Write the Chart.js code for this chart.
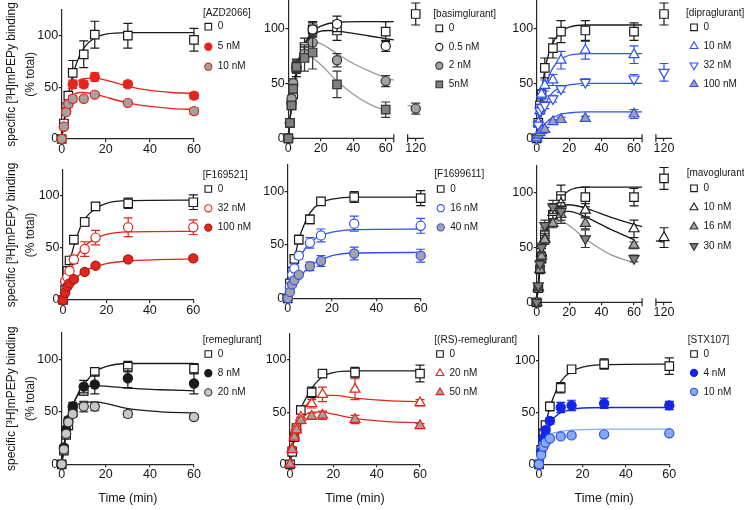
<!DOCTYPE html>
<html>
<head>
<meta charset="utf-8">
<script src="https://cdn.jsdelivr.net/npm/chart.js"></script>
<style>
  html, body { margin: 0; padding: 0; background: #fff; }
  #wrap { position: relative; width: 744px; height: 510px; }
  #wrap canvas { position: absolute; left: 0; top: 0; }
</style>
</head>
<body>
<div id="wrap"></div>
<script>
// time points (min); 120 only in the panels with a broken axis
const T = [0, 1, 2, 3, 5, 10, 15, 30, 60];
const TB = [0, 1, 2, 3, 5, 10, 15, 30, 60, 120];
const xTicks = [0, 20, 40, 60];
const xTicksB = [0, 20, 40, 60, 120];
const yTicks = [0, 50, 100];

// [AZD2066]
const azd_0 = [0, 15, 31, 42, 64, 82, 101, 100, 96];
const azd_0e = [0, 2, 3, 4, 12, 13, 13, 12, 11];
const azd_5 = [0, 12, 27, 34, 53, 53, 60, 53, 42];
const azd_5e = [0, 2, 2, 3, 4, 3, 4, 3, 3];
const azd_10 = [0, 12, 26, 34, 39, 39, 43, 35, 27];
const azd_10e = [0, 2, 2, 3, 3, 2, 2, 2, 3];
const azd_0f = [[0,0],[1,17],[2,31],[3,43],[5,62],[8,80],[10,88],[15,98],[20,101.5],[30,103],[60,103]];
const azd_5f = [[0,0],[1,15],[2,28],[3,38],[5,50],[8,57],[10,58.5],[15,59],[20,57],[30,51],[40,47],[50,45],[60,44]];
const azd_10f = [[0,0],[1,15],[2,27],[3,35],[5,42],[8,45],[10,45],[15,43.5],[20,40.5],[30,35],[40,31.5],[50,29.5],[60,28.5]];

// [basimglurant]
const bas_0 = [0, 14, 30, 40, 64, 83, 99, 98, 97, 113];
const bas_0e = [0, 2, 3, 4, 8, 8, 6, 9, 9, 10];
const bas_05 = [0, 14, 32, 48, 64, 77, 99, 104, 84, null];
const bas_05e = [0, 2, 3, 4, 4, 6, 7, 7, 5, 0];
const bas_2 = [0, 14, 36, 50, 65, 77, 87, 71, 52, 27];
const bas_2e = [0, 2, 3, 4, 5, 6, 7, 6, 5, 5];
const bas_5 = [0, 14, 30, 45, 65, 73, 78, 49, 26, null];
const bas_5e = [0, 2, 3, 4, 6, 12, 15, 12, 7, 0];
const bas_0f = [[0,0],[1,16],[2,30],[3,42],[5,62],[8,79],[10,86],[15,97],[20,102],[30,105.5],[45,106],[65,106]];
const bas_05f = [[0,0],[1,16],[2,30],[3,42],[5,62],[8,78],[10,85],[15,94],[20,97.5],[25,98],[35,96.5],[50,93],[65,89.5]];
const bas_2f = [[0,0],[2,32],[5,62],[8,80],[10,85],[15,88],[20,86],[30,77],[40,68],[50,61],[60,55],[65,53]];
const bas_2f2 = [[115,30],[120,28]];
const bas_5f = [[0,0],[2,30],[5,56],[8,70],[10,73],[12,74],[15,73],[20,67],[30,52],[40,40],[50,31],[60,25]];

// [dipraglurant]
const dip_0 = [0, 14, 30, 40, 64, 82, 97, 98, 97, 113];
const dip_0e = [0, 2, 3, 4, 9, 9, 10, 9, 8, 10];
const dip_10 = [0, 14, 25, 40, 48, 53, 71, 80, 76, null];
const dip_10e = [0, 2, 3, 4, 5, 5, 8, 8, 8, 0];
const dip_32 = [0, 12, 25, 28, 30, 36, 45, 51, 54, 60];
const dip_32e = [0, 2, 2, 3, 3, 3, 3, 3, 4, 8];
const dip_100 = [0, 3, 5, 7, 8, 15, 17, 18, 22, null];
const dip_100e = [0, 1, 1, 1, 2, 2, 2, 2, 4, 0];
const dip_0f = [[0,0],[1,16],[2,30],[3,42],[5,62],[8,80],[10,87],[15,97],[20,101],[30,103],[65,103]];
const dip_10f = [[0,0],[1,11],[2,22],[3,31],[5,45],[8,58],[10,64],[15,72],[20,75.5],[30,77],[65,77]];
const dip_32f = [[0,0],[1,8],[2,15],[3,21],[5,30],[8,38],[10,42],[15,46.5],[20,48.5],[30,50],[65,50]];
const dip_100f = [[0,0],[2,6],[5,13],[8,17],[10,19],[15,22],[20,23],[30,24],[65,24]];

// [F169521]
const fa_0 = [0, 10, 28, 38, 58, 75, 90, 93, 94];
const fa_0e = [0, 2, 2, 3, 4, 4, 3, 5, 7];
const fa_32 = [0, 18, 22, 28, 39, 49, 60, 70, 70];
const fa_32e = [0, 2, 3, 3, 4, 7, 7, 9, 7];
const fa_100 = [0, 7, 13, 16, 20, 27, 33, 39, 40];
const fa_100e = [0, 1, 2, 2, 2, 2, 2, 2, 2];
const fa_0f = [[0,0],[1,13],[2,25],[3,35],[5,52],[8,70],[10,78],[15,88],[20,93],[30,95.5],[60,96]];
const fa_32f = [[0,0],[1,11],[2,20],[3,26],[5,37],[8,47],[10,52],[15,59],[20,63],[30,65.5],[60,66]];
const fa_100f = [[0,0],[1,5],[2,10],[3,14],[5,19],[8,25],[10,28],[15,32],[20,35],[30,37.5],[60,39.5]];

// [F1699611]
const fb_0 = [0, 14, 25, 37, 55, 74, 91, 95, 94];
const fb_0e = [0, 2, 3, 3, 4, 4, 3, 5, 7];
const fb_16 = [0, 11, 22, 28, 40, 52, 59, 70, 68];
const fb_16e = [0, 2, 2, 3, 3, 5, 6, 7, 7];
const fb_40 = [0, 6, 13, 17, 22, 30, 35, 42, 40];
const fb_40e = [0, 1, 2, 2, 2, 4, 5, 6, 6];
const fb_0f = [[0,0],[1,13],[2,25],[3,36],[5,55],[8,72],[10,80],[15,90],[20,93],[30,95],[60,95]];
const fb_16f = [[0,0],[1,9],[2,17],[3,24],[5,36],[8,47],[10,52],[15,59],[20,62],[30,64.5],[60,65]];
const fb_40f = [[0,0],[1,4],[2,8],[3,12],[5,19],[8,26],[10,30],[15,36],[20,40],[30,42.5],[60,43]];

// [mavoglurant]
const mav_0 = [0, 13, 30, 40, 62, 80, 97, 96, 96, 113];
const mav_0e = [0, 2, 3, 4, 6, 10, 10, 9, 8, 10];
const mav_10 = [0, 13, 30, 45, 58, 82, 90, 84, 67, 59];
const mav_10e = [0, 2, 3, 4, 5, 6, 8, 6, 8, 9];
const mav_16 = [0, 14, 30, 42, 57, 72, 80, 72, 52, null];
const mav_16e = [0, 2, 3, 3, 4, 4, 8, 5, 3, 0];
const mav_30 = [0, 15, 35, 50, 70, 87, 83, 58, 40, null];
const mav_30e = [0, 2, 3, 4, 5, 6, 8, 8, 3, 0];
const mav_0f = [[0,0],[1,16],[2,30],[3,42],[5,60],[8,76],[10,83],[15,95],[20,102],[30,105],[65,105]];
const mav_10f = [[0,0],[2,30],[5,60],[8,75],[10,80],[15,88],[20,89],[30,86],[45,78],[60,71],[65,69]];
const mav_10f2 = [[115,56],[120,55]];
const mav_16f = [[0,0],[2,30],[5,58],[8,72],[10,77],[15,83],[20,83],[30,78],[45,67],[60,57]];
const mav_30f = [[0,0],[2,30],[5,57],[8,68],[10,72],[15,74],[20,70],[30,58],[45,44],[60,36]];

// [remeglurant]
const rem_0 = [0, 13, 28, 37, 50, 70, 88, 93, 91];
const rem_0e = [0, 2, 3, 3, 4, 4, 3, 5, 5];
const rem_8 = [0, 16, 33, 42, 55, 74, 76, 82, 77];
const rem_8e = [0, 2, 3, 3, 4, 6, 9, 9, 10];
const rem_20 = [0, 14, 29, 40, 48, 55, 55, 48, 45];
const rem_20e = [0, 2, 2, 3, 3, 5, 4, 3, 2];
const rem_0f = [[0,0],[1,15],[2,29],[3,40],[5,55],[8,70],[10,76],[15,88],[20,93],[30,96],[60,96]];
const rem_8f = [[0,0],[1,17],[2,32],[3,43],[5,57],[8,68],[10,72],[15,75],[20,74.5],[30,72.5],[45,71],[60,70]];
const rem_20f = [[0,0],[1,16],[2,30],[3,40],[5,52],[8,58],[10,59],[15,59.5],[20,58],[30,53],[45,50],[60,49]];

// [(RS)-remeglurant]
const rs_0 = [0, 12, 26, 35, 52, 69, 87, 88, 87];
const rs_0e = [0, 2, 3, 3, 4, 5, 3, 5, 8];
const rs_20 = [0, 15, 28, 36, 45, 58, 67, 72, 59];
const rs_20e = [0, 2, 3, 3, 3, 4, 7, 10, 3];
const rs_50 = [0, 14, 26, 33, 42, 46, 47, 43, 37];
const rs_50e = [0, 2, 2, 3, 3, 3, 4, 4, 2];
const rs_0f = [[0,0],[1,14],[2,28],[3,38],[5,53],[8,66],[10,73],[15,84],[20,88],[30,89.5],[60,89.5]];
const rs_20f = [[0,0],[1,13],[2,25],[3,34],[5,48],[8,58],[10,62],[15,66],[20,66],[30,63.5],[45,61],[60,60]];
const rs_50f = [[0,0],[1,13],[2,25],[3,33],[5,43],[8,48.5],[10,50],[15,50],[20,48],[30,44],[45,41],[60,40]];

// [STX107]
const stx_0 = [0, 14, 30, 38, 56, 74, 92, 97, 95];
const stx_0e = [0, 2, 3, 3, 4, 5, 3, 5, 8];
const stx_4 = [0, 12, 25, 33, 42, 55, 57, 59, 57];
const stx_4e = [0, 2, 2, 3, 3, 5, 5, 5, 4];
const stx_10 = [0, 9, 17, 21, 25, 27, 28, 29, 30];
const stx_10e = [0, 1, 2, 2, 2, 2, 2, 2, 2];
const stx_0f = [[0,0],[1,14],[2,27],[3,38],[5,55],[8,72],[10,80],[15,90],[20,94],[30,96.5],[60,97]];
const stx_4f = [[0,0],[1,12],[2,22],[3,30],[5,40],[8,47],[10,50],[15,53],[20,54.5],[30,55],[60,55]];
const stx_10f = [[0,0],[1,12],[2,22],[3,26],[5,29],[8,31],[10,32],[15,33],[20,33.5],[30,34],[60,34]];

// ---- styles ----
const AX = '#262626', INK = '#161616';
const BLACK = '#1a1a1a', RED = '#e3251b', DRED = '#a51d14', BLUE = '#3150f2', DBLUE = '#1424e8',
      LBLUE = '#86aaf2', GRAY = '#a2a2a2', DGRAY = '#808080', LGRAY = '#c8c8c8', CGRAY = '#9a9a9a';
const FONT = '"Liberation Sans", Arial, Helvetica, sans-serif';

const sq = (fill, line) => ({ shape: 'rect', r: 6, fill, line });
const ci = (fill, line) => ({ shape: 'circle', r: 4.6, fill, line });
const tu = (fill, line) => ({ shape: 'triangle', r: 5.8, fill, line, rot: 0 });
const td = (fill, line) => ({ shape: 'triangle', r: 5.8, fill, line, rot: 180 });

const panels = [
  { key: '[AZD2066]', t: T, lay: { ax: 61.7, x60: 194, zero: 139, y100: 35.7 },
    leg: { tx: 203, ty: 13.3, mx: 208.3, y0: 26.7, dy: 20 },
    series: [
      { label: '0', y: azd_0, e: azd_0e, fit: [azd_0f], m: sq('#fff', BLACK), lc: BLACK },
      { label: '5 nM', y: azd_5, e: azd_5e, fit: [azd_5f], m: ci(RED, RED), lc: RED },
      { label: '10 nM', y: azd_10, e: azd_10e, fit: [azd_10f], m: ci(GRAY, RED), lc: RED } ] },
  { key: '[basimglurant]', t: TB, lay: { ax: 288.3, x60: 385.7, zero: 138.3, y100: 28.3 },
    leg: { tx: 433.3, ty: 14, mx: 439.3, y0: 28.3, dy: 18.7 },
    series: [
      { label: '0', y: bas_0, e: bas_0e, fit: [bas_0f], m: sq('#fff', BLACK), lc: BLACK },
      { label: '0.5 nM', y: bas_05, e: bas_05e, fit: [bas_05f], m: ci('#fff', BLACK), lc: BLACK },
      { label: '2 nM', y: bas_2, e: bas_2e, fit: [bas_2f, bas_2f2], m: ci(GRAY, '#333'), lc: CGRAY },
      { label: '5nM', y: bas_5, e: bas_5e, fit: [bas_5f], m: sq(DGRAY, '#333'), lc: CGRAY } ] },
  { key: '[dipraglurant]', t: TB, lay: { ax: 536.7, x60: 634, zero: 138.3, y100: 28.3 },
    leg: { tx: 686, ty: 13, mx: 694, y0: 27.3, dy: 19 },
    series: [
      { label: '0', y: dip_0, e: dip_0e, fit: [dip_0f], m: sq('#fff', BLACK), lc: BLACK },
      { label: '10 nM', y: dip_10, e: dip_10e, fit: [dip_10f], m: tu('#fff', BLUE), lc: BLUE },
      { label: '32 nM', y: dip_32, e: dip_32e, fit: [dip_32f], m: td('#fff', BLUE), lc: BLUE },
      { label: '100 nM', y: dip_100, e: dip_100e, fit: [dip_100f], m: tu(GRAY, BLUE), lc: BLUE } ] },
  { key: '[F169521]', t: T, lay: { ax: 63, x60: 193.3, zero: 300, y100: 196 },
    leg: { tx: 202.7, ty: 175, mx: 208.3, y0: 189, dy: 19.3 },
    series: [
      { label: '0', y: fa_0, e: fa_0e, fit: [fa_0f], m: sq('#fff', BLACK), lc: BLACK },
      { label: '32 nM', y: fa_32, e: fa_32e, fit: [fa_32f], m: ci('#fff', RED), lc: RED },
      { label: '100 nM', y: fa_100, e: fa_100e, fit: [fa_100f], m: ci(RED, DRED), lc: RED } ] },
  { key: '[F1699611]', t: T, lay: { ax: 287.7, x60: 420.7, zero: 298.3, y100: 191.7 },
    leg: { tx: 434.3, ty: 174, mx: 440.7, y0: 189, dy: 19.2 },
    series: [
      { label: '0', y: fb_0, e: fb_0e, fit: [fb_0f], m: sq('#fff', BLACK), lc: BLACK },
      { label: '16 nM', y: fb_16, e: fb_16e, fit: [fb_16f], m: ci('#fff', BLUE), lc: BLUE },
      { label: '40 nM', y: fb_40, e: fb_40e, fit: [fb_40f], m: ci(GRAY, BLUE), lc: BLUE } ] },
  { key: '[mavoglurant]', t: TB, lay: { ax: 536.7, x60: 634, zero: 302.3, y100: 192.7 },
    leg: { tx: 686.7, ty: 173.3, mx: 694, y0: 188.3, dy: 19.2 },
    series: [
      { label: '0', y: mav_0, e: mav_0e, fit: [mav_0f], m: sq('#fff', BLACK), lc: BLACK },
      { label: '10 nM', y: mav_10, e: mav_10e, fit: [mav_10f, mav_10f2], m: tu('#fff', BLACK), lc: BLACK },
      { label: '16 nM', y: mav_16, e: mav_16e, fit: [mav_16f], m: tu(GRAY, '#333'), lc: BLACK },
      { label: '30 nM', y: mav_30, e: mav_30e, fit: [mav_30f], m: td(DGRAY, '#333'), lc: CGRAY } ] },
  { key: '[remeglurant]', t: T, lay: { ax: 61.7, x60: 194, zero: 464.3, y100: 359.3 },
    leg: { tx: 202.7, ty: 340, mx: 208.3, y0: 354, dy: 19.2 },
    series: [
      { label: '0', y: rem_0, e: rem_0e, fit: [rem_0f], m: sq('#fff', BLACK), lc: BLACK },
      { label: '8 nM', y: rem_8, e: rem_8e, fit: [rem_8f], m: ci(BLACK, BLACK), lc: BLACK },
      { label: '20 nM', y: rem_20, e: rem_20e, fit: [rem_20f], m: ci(LGRAY, '#333'), lc: BLACK } ] },
  { key: '[(RS)-remeglurant]', t: T, lay: { ax: 290, x60: 420, zero: 464.3, y100: 360 },
    leg: { tx: 434.3, ty: 340, mx: 440, y0: 354, dy: 19.2 },
    series: [
      { label: '0', y: rs_0, e: rs_0e, fit: [rs_0f], m: sq('#fff', BLACK), lc: BLACK },
      { label: '20 nM', y: rs_20, e: rs_20e, fit: [rs_20f], m: tu('#fff', RED), lc: RED },
      { label: '50 nM', y: rs_50, e: rs_50e, fit: [rs_50f], m: tu(GRAY, RED), lc: RED } ] },
  { key: '[STX107]', t: T, lay: { ax: 539, x60: 669.3, zero: 464.3, y100: 361 },
    leg: { tx: 687.7, ty: 340, mx: 694, y0: 354, dy: 18.9 },
    series: [
      { label: '0', y: stx_0, e: stx_0e, fit: [stx_0f], m: sq('#fff', BLACK), lc: BLACK },
      { label: '4 nM', y: stx_4, e: stx_4e, fit: [stx_4f], m: ci(DBLUE, DBLUE), lc: DBLUE },
      { label: '10 nM', y: stx_10, e: stx_10e, fit: [stx_10f], m: ci(LBLUE, BLUE), lc: LBLUE } ] }
];

// x axis with a break: times past 90 min are pulled back next to the 0-65 part
class BrokenScale extends Chart.LinearScale {
  getPixelForValue(v) { return super.getPixelForValue(v > 90 ? v - 41.5 : v); }
}
BrokenScale.id = 'broken';
BrokenScale.defaults = Chart.LinearScale.defaults;

const errBars = {
  id: 'errBars',
  beforeDatasetDraw(chart, args) {
    const ds = chart.data.datasets[args.index];
    if (!ds.err) return;
    const ys = chart.scales.y, ctx = chart.ctx;
    ctx.save();
    ctx.strokeStyle = ds.borderColor;
    ctx.lineWidth = 1.2;
    args.meta.data.forEach((pt, j) => {
      const v = ds.data[j].y, e = ds.err[j];
      if (v == null || !e) return;
      const a = ys.getPixelForValue(v + e), b = ys.getPixelForValue(v - e);
      ctx.beginPath();
      ctx.moveTo(pt.x, a); ctx.lineTo(pt.x, b);
      ctx.moveTo(pt.x - 4.5, a); ctx.lineTo(pt.x + 4.5, a);
      ctx.moveTo(pt.x - 4.5, b); ctx.lineTo(pt.x + 4.5, b);
      ctx.stroke();
    });
    ctx.restore();
  }
};

const brokenAxis = {
  id: 'brokenAxis',
  beforeDatasetsDraw(chart, args, o) {
    if (!o.segs) return;
    const xs = chart.scales.x, y0 = chart.chartArea.bottom, ctx = chart.ctx;
    ctx.save();
    ctx.strokeStyle = AX;
    ctx.lineWidth = 1.2;
    ctx.beginPath();
    o.segs.forEach(([a, b]) => {
      ctx.moveTo(xs.getPixelForValue(a), y0);
      ctx.lineTo(xs.getPixelForValue(b), y0);
    });
    o.marks.forEach(m => {
      const x = xs.getPixelForValue(m);
      ctx.moveTo(x, y0 - 4); ctx.lineTo(x, y0 + 4);
    });
    ctx.stroke();
    ctx.restore();
  }
};

const keyBox = {
  id: 'keyBox',
  afterDraw(chart, args, o) {
    const ctx = chart.ctx;
    ctx.save();
    ctx.font = '10px ' + FONT;
    ctx.textBaseline = 'middle';
    ctx.textAlign = 'left';
    ctx.fillStyle = INK;
    ctx.fillText(o.title, o.tx, o.ty);
    let k = 0;
    chart.data.datasets.forEach(ds => {
      if (!ds.isKey) return;
      const y = o.y0 + k * o.dy;
      k++;
      ctx.fillStyle = ds.backgroundColor;
      ctx.strokeStyle = ds.borderColor;
      ctx.lineWidth = 1.1;
      Chart.helpers.drawPoint(ctx, {
        pointStyle: ds.pointStyle, rotation: ds.pointRotation || 0,
        radius: ds.pointRadius * 0.78, borderWidth: 1.1
      }, o.mx, y);
      ctx.fillStyle = INK;
      ctx.fillText(ds.label, o.mx + 9.5, y);
    });
    ctx.restore();
  }
};

Chart.register(BrokenScale, errBars, brokenAxis, keyBox);
Chart.defaults.font.family = FONT;

const wrap = document.getElementById('wrap');
const tickFont = { size: 12.5, family: FONT };

panels.forEach((p, i) => {
  const col = i % 3, row = Math.floor(i / 3);
  const L = p.lay;
  const broken = p.t === TB;
  const px = (L.x60 - L.ax) / 60, py = (L.zero - L.y100) / 100;
  const xMax = broken ? 84 : 60;
  const yW = col === 0 ? L.ax : 40;
  const xH = row === 2 ? 42 : 20;

  const datasets = [];
  p.series.forEach((s, j) => {
    s.fit.forEach(f => datasets.push({
      data: f.map(([x, y]) => ({ x, y })),
      showLine: true, pointRadius: 0, borderColor: s.lc, borderWidth: 1.3,
      cubicInterpolationMode: 'monotone', order: 20, clip: false
    }));
    datasets.push({
      label: s.label, isKey: true,
      data: p.t.map((t, k) => ({ x: t, y: s.y[k] })),
      err: s.e,
      pointStyle: s.m.shape, pointRadius: s.m.r, pointRotation: s.m.rot || 0,
      backgroundColor: s.m.fill, borderColor: s.m.line, borderWidth: 1.2,
      order: 10 - j, clip: false
    });
  });

  const cv = document.createElement('canvas');
  cv.width = 744; cv.height = 510;
  wrap.appendChild(cv);

  new Chart(cv, {
    type: 'scatter',
    data: { datasets },
    options: {
      responsive: false, animation: false, events: [],
      layout: {
        autoPadding: false,
        padding: { left: L.ax - yW, top: L.zero - 125 * py, right: 744 - (L.ax + xMax * px), bottom: 510 - L.zero - xH }
      },
      plugins: {
        legend: { display: false }, tooltip: { enabled: false },
        keyBox: { title: p.key, tx: p.leg.tx, ty: p.leg.ty, mx: p.leg.mx, y0: p.leg.y0, dy: p.leg.dy },
        brokenAxis: broken ? { segs: [[0, 65], [115, 125]], marks: [65, 115] } : false
      },
      scales: {
        x: {
          type: broken ? 'broken' : 'linear', bounds: 'data',
          afterDataLimits: s => { s.min = 0; s.max = xMax; },
          afterBuildTicks: s => { s.ticks = (broken ? xTicksB : xTicks).map(v => ({ value: v })); },
          afterFit: s => { s.height = xH; s.paddingLeft = 0; s.paddingRight = 0; },
          border: { display: !broken, color: AX, width: 1.2 },
          grid: { display: true, drawOnChartArea: false, tickLength: 3, color: AX, lineWidth: 1.2 },
          ticks: { font: tickFont, color: INK, padding: 0, maxRotation: 0, autoSkip: false, callback: v => String(v) },
          title: row === 2
            ? { display: true, text: 'Time (min)', color: INK, font: { size: 12.5, family: FONT, lineHeight: 1.2 }, padding: { top: 0, bottom: 0 } }
            : { display: false }
        },
        y: {
          type: 'linear', bounds: 'data',
          afterDataLimits: s => { s.min = 0; s.max = 125; },
          afterBuildTicks: s => { s.ticks = yTicks.map(v => ({ value: v })); },
          afterFit: s => { s.width = yW; s.paddingTop = 0; s.paddingBottom = 0; },
          border: { display: true, color: AX, width: 1.2 },
          grid: { display: true, drawOnChartArea: false, tickLength: 3, color: AX, lineWidth: 1.2 },
          ticks: { font: tickFont, color: INK, padding: 0.5, callback: v => String(v) },
          title: col === 0
            ? { display: true, text: ['specific [³H]mPEPy binding', '(% total)'], color: INK,
                font: { size: 12, family: FONT, lineHeight: 1.55 }, padding: { top: 2.7, bottom: 0 } }
            : { display: false }
        }
      }
    }
  });
});
</script>
</body>
</html>
